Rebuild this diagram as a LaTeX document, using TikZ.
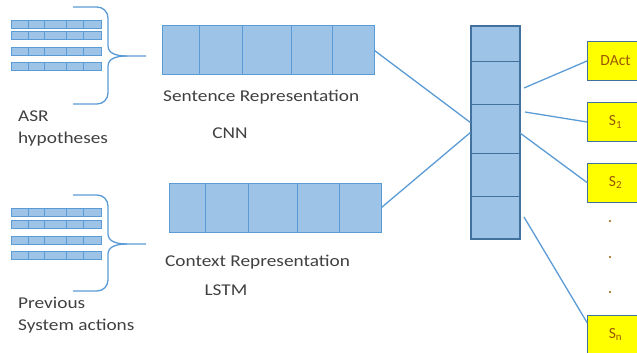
\documentclass[tikz,border=0pt]{standalone}
\usepackage{fontspec}
\setmainfont{Carlito}
\newfontfamily\widefont[FakeStretch=1.17]{Carlito}
\usetikzlibrary{positioning, calc}
\definecolor{cellblue}{HTML}{9DC3E6}
\definecolor{edgeblue}{HTML}{5B9BD5}
\definecolor{darkblue}{HTML}{41719C}
\definecolor{outyellow}{HTML}{FFFF00}
\definecolor{outtext}{HTML}{9C5700}
\definecolor{labelgray}{HTML}{404040}

\begin{document}
\begin{tikzpicture}[x=1pt, y=-1pt,
  cellbox/.style={fill=cellblue, draw=edgeblue, line width=1pt, inner sep=0pt},
  link/.style={draw=edgeblue, line width=1.3pt},
  brace/.style={draw=edgeblue, line width=1.3pt},
  lbl/.style={font=\widefont\fontsize{16.5}{22}\selectfont, text=labelgray, inner sep=0pt, align=left},
  outbox/.style={fill=outyellow, draw=darkblue, line width=1pt, minimum width=56pt,
    minimum height=39pt, font=\fontsize{15.5}{17}\selectfont, text=outtext, anchor=west}
]
  \useasboundingbox (0,0) rectangle (637,353);
  \clip (0,0) rectangle (637,353);

  % Input bars
  \foreach \y in {20.5,32,48,63, 208,220,236,251} {
    \draw[cellbox] (11,\y) rectangle (101,\y+8);
    \foreach \x in {28,44,66,83}
      \draw[edgeblue, line width=1pt] (\x,\y) -- (\x,\y+8);
  }

  % Braces
  \foreach \t/\m/\b in {7/56/104, 195/244/291} {
    \draw[brace] (73,\t) -- (97,\t) to[out=0,in=90] (108,\t+11) -- (108,\m-10)
      to[out=-90,in=180] (127,\m) -- (146,\m);
    \draw[brace] (73,\b) -- (97,\b) to[out=0,in=-90] (108,\b-11) -- (108,\m+10)
      to[out=90,in=180] (127,\m);
  }

  % Representations
  \node[cellbox, minimum width=212pt, minimum height=49pt] (sent) at (268,50.5) {};
  \foreach \x in {199,242,291,332} \draw[edgeblue, line width=1pt] (\x,26) -- (\x,75);
  \node[cellbox, minimum width=212pt, minimum height=49pt] (ctx) at (275,207.5) {};
  \foreach \x in {205,248,297,339} \draw[edgeblue, line width=1pt] (\x,183) -- (\x,232);

  % Joint column
  \node[cellbox, draw=darkblue, line width=1.2pt, minimum width=49pt, minimum height=213pt] (col) at (495.5,132.5) {};
  \foreach \y in {62,104,153,196} \draw[darkblue, line width=1pt] (471,\y) -- (520,\y);

  % Labels
  \node[lbl, anchor=west] (asr) at (18,128) {ASR\\hypotheses};
  \node[lbl, anchor=west] (prev) at (18,315.5) {Previous\\System actions};
  \node[lbl, anchor=west] (sentlbl) at (163,97) {Sentence Representation};
  \node[lbl] (cnn) at (230,133) {CNN};
  \node[lbl, anchor=west] (ctxlbl) at (165,262) {Context Representation};
  \node[lbl] (lstm) at (226,290) {LSTM};

  % Outputs
  \node[outbox] (dact) at (587,61) {DAct};
  \node[outbox] (s1) at (587,122) {S\textsubscript{1}};
  \node[outbox] (s2) at (587,182.5) {S\textsubscript{2}};
  \node[outbox] (sn) at (587,334.5) {S\textsubscript{n}};
  \foreach \y in {221,257,292} \fill[outtext] (610,\y) circle (1.2);

  % Connections
  \coordinate (cd) at (524,88);
  \coordinate (c1) at (525,112);
  \coordinate (c2) at (520,133);
  \coordinate (cn) at (524,217);
  \draw[link] (sent.east) -- ($(col.west)+(0,-10)$);
  \draw[link] (ctx.east) -- (col.west);
  \draw[link] (cd) -- (dact.west);
  \draw[link] (c1) -- (s1.west);
  \draw[link] (c2) -- (s2.west);
  \draw[link] (cn) -- ($(sn.north west)+(0,8)$);
\end{tikzpicture}
\end{document}
